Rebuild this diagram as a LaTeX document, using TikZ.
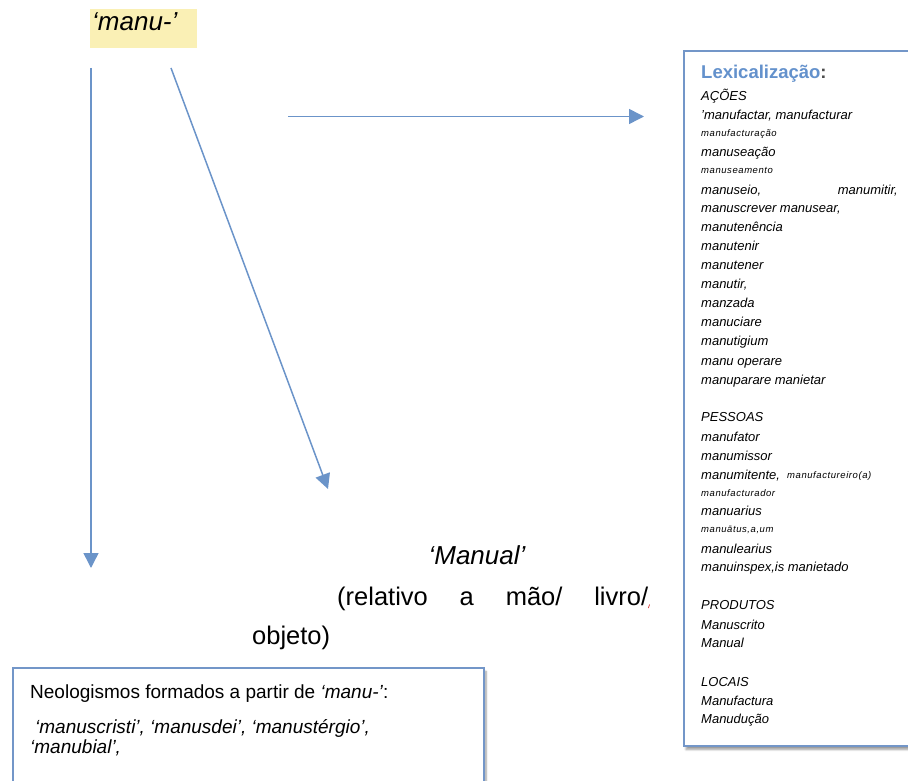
\documentclass[tikz,border=0pt]{standalone}
\usepackage{fontspec}
\setmainfont{Liberation Sans}
\usetikzlibrary{arrows.meta,shadows.blur}
\definecolor{linkblue}{HTML}{6B94C9}
\definecolor{frameblue}{HTML}{7396C8}
\definecolor{titleblue}{HTML}{6391CC}
\definecolor{rootfill}{HTML}{FAF0B5}
\newcommand{\px}[1]{\fontsize{#1}{#1}\selectfont}
\begin{document}
\begin{tikzpicture}[x=1pt,y=-1pt,
  link/.style={draw=linkblue, line width=1.5pt, -{Triangle[length=15pt,width=15pt]}},
  frame/.style={draw=frameblue, line width=2pt, fill=white, inner sep=0pt,
    blur shadow={shadow xshift=2pt, shadow yshift=-3.5pt, shadow blur steps=6, shadow opacity=40}},
  item/.style={anchor=base west, inner sep=0pt, font=\px{13}\itshape},
  tinyitem/.style={anchor=base west, inner sep=0pt, font=\px{9.5}\itshape\addfontfeature{LetterSpace=6}},
  big/.style={inner sep=0pt, font=\px{25.5}},
  neo/.style={anchor=base west, inner sep=0pt, font=\px{19}}]
\useasboundingbox (0,0) rectangle (908,781);

% root morpheme
\node[fill=rootfill, anchor=north west, minimum width=107pt, minimum height=39pt, inner sep=0pt] (manu) at (90,9) {};
\node[big, anchor=base west, font=\px{26}\itshape] (manutxt) at (92,31) {`manu-'};

% frames
\node[frame, anchor=north west, minimum width=240pt, minimum height=695pt] (lexbox) at (683,50) {};
\node[frame, anchor=north west, minimum width=471pt, minimum height=135pt] (neobox) at (12,667) {};

% arrow end points
\coordinate (vstart) at (91,68);
\coordinate (vend) at (91,568);
\coordinate (dstart) at (171,68);
\coordinate (dend) at (328,489);
\coordinate (hstart) at (288,116.5);
\coordinate (hend) at (644,116.5);
\draw[link] (vstart) -- (vend);
\draw[link] (dstart) -- (dend);
\draw[link] (hstart) -- (hend);

% Manual
\node[big, anchor=base, font=\px{26}\itshape] (manual) at (477,564) {`Manual'};
\node[big, anchor=base west] (rel) at (337,605) {\makebox[311pt][s]{(relativo a mão/ livro/}};
\node[big, anchor=base west] (obj) at (252,644) {objeto)};
\draw[red!80!black, line width=0.6pt] (649.5,604.5) -- (648.5,608);

% lexicalisation list
\node[anchor=base west, inner sep=0pt, font=\px{18.5}\bfseries, text=titleblue] (lextitle) at (701,79) {Lexicalização\textcolor{black!70}{:}};
\node[item] (a0) at (701,101) {AÇÕES};
\node[item] (a1) at (701,120) {'manufactar, manufacturar};
\node[tinyitem] (a2) at (701,137) {manufacturação};
\node[item] (a3) at (701,157) {manuseação};
\node[tinyitem] (a4) at (701,173.5) {manuseamento};
\node[item] (a5) at (701,194) {manuseio,};
\node[item, anchor=base east] (a5b) at (898,194) {manumitir,};
\node[item] (a6) at (701,212.5) {manuscrever manusear,};
\node[item] (a7) at (701,231.5) {manutenência};
\node[item] (a8) at (701,250.5) {manutenir};
\node[item] (a9) at (701,269) {manutener};
\node[item] (a10) at (701,288) {manutir,};
\node[item] (a11) at (701,307) {manzada};
\node[item] (a12) at (701,326) {manuciare};
\node[item] (a13) at (701,345) {manutigium};
\node[item] (a14) at (701,365) {manu operare};
\node[item] (a15) at (701,384) {manuparare manietar};

\node[item] (p0) at (701,421.5) {PESSOAS};
\node[item] (p1) at (701,441) {manufator};
\node[item] (p2) at (701,460) {manumissor};
\node[item] (p3) at (701,479.5) {manumitente,};
\node[tinyitem] (p3b) at (787,478.5) {manufactureiro(a)};
\node[tinyitem] (p4) at (701,496) {manufacturador};
\node[item] (p5) at (701,515.5) {manuarius};
\node[tinyitem] (p6) at (701,532.5) {manuātus,a,um};
\node[item] (p7) at (701,553) {manulearius};
\node[item] (p8) at (701,571.5) {manuinspex,is manietado};

\node[item] (r0) at (701,609.5) {PRODUTOS};
\node[item] (r1) at (701,629) {Manuscrito};
\node[item] (r2) at (701,647.5) {Manual};

\node[item] (l0) at (701,686) {LOCAIS};
\node[item] (l1) at (701,705) {Manufactura};
\node[item] (l2) at (701,723.5) {Manudução};

% neologisms
\node[neo] (n1) at (30,698) {Neologismos formados a partir de \textit{`manu-'}:};
\node[neo, font=\px{19}\itshape] (n2) at (35,733) {`manuscristi', `manusdei', `manustérgio',};
\node[neo, font=\px{19}\itshape] (n3) at (30,753) {`manubial',};
\end{tikzpicture}
\end{document}
